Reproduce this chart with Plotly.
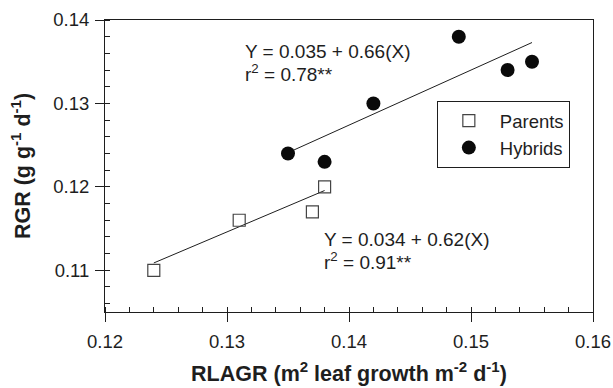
import plotly.graph_objects as go

# Relative leaf area growth rate (x) vs relative growth rate (y)
parents_x = [0.124, 0.131, 0.137, 0.138]
parents_y = [0.110, 0.116, 0.117, 0.120]
hybrids_x = [0.135, 0.138, 0.142, 0.149, 0.153, 0.155]
hybrids_y = [0.124, 0.123, 0.130, 0.138, 0.134, 0.135]

# Fitted regressions: Y = a + b*X
parents_fit = (0.034, 0.62)
hybrids_fit = (0.035, 0.66)

x_ticks = [0.12, 0.13, 0.14, 0.15, 0.16]
y_ticks = [0.11, 0.12, 0.13, 0.14]

INK = "#1e1e1e"
FONT = "Liberation Sans, Arial, sans-serif"

def fit_line(xs, coef):
    a, b = coef
    x0, x1 = min(xs), max(xs)
    return [x0, x1], [a + b * x0, a + b * x1]

fig = go.Figure()

for xs, coef in ((parents_x, parents_fit), (hybrids_x, hybrids_fit)):
    lx, ly = fit_line(xs, coef)
    fig.add_trace(go.Scatter(x=lx, y=ly, mode="lines", showlegend=False,
                             line=dict(color=INK, width=1), hoverinfo="skip"))

fig.add_trace(go.Scatter(
    x=parents_x, y=parents_y, mode="markers", name="Parents",
    marker=dict(symbol="square-open", size=12, color="#444444",
                line=dict(width=1.2, color="#444444"))))
fig.add_trace(go.Scatter(
    x=hybrids_x, y=hybrids_y, mode="markers", name="Hybrids",
    marker=dict(symbol="circle", size=14, color="#0a0a0a")))

def eq_text(coef):
    return f"Y = {coef[0]:.3f} + {coef[1]:.2f}(X)"

notes = [
    (0.1313, 0.1362, eq_text(hybrids_fit)),
    (0.1313, 0.1336, "r<sup>2</sup> = 0.78**"),
    (0.1378, 0.1137, eq_text(parents_fit)),
    (0.1378, 0.1111, "r<sup>2</sup> = 0.91**"),
]
for nx, ny, txt in notes:
    fig.add_annotation(x=nx, y=ny, text=txt, showarrow=False,
                       xanchor="left", yanchor="middle", align="left",
                       font=dict(size=19, color=INK, family=FONT))

axis_common = dict(
    showgrid=False, zeroline=False, showline=True, linecolor=INK,
    linewidth=1, mirror=True, ticks="outside", ticklen=9, tickwidth=1,
    tickcolor=INK, tickfont=dict(size=18.5, color=INK, family=FONT),
    automargin=False,
)

fig.update_xaxes(
    range=[0.12, 0.16], tickvals=x_ticks,
    ticktext=[f"{v:.2f}" for v in x_ticks],
    ticklabelstandoff=4,
    minor=dict(ticks="inside", dtick=0.002, tick0=0.12, ticklen=5,
               tickcolor=INK, tickwidth=1),
    title=dict(text="<b>RLAGR (m<sup>2</sup> leaf growth m<sup>-2</sup> d<sup>-1</sup>)</b>",
               font=dict(size=21.5, color=INK, family=FONT), standoff=14),
    **axis_common)
fig.update_yaxes(
    range=[0.105, 0.14], tickvals=y_ticks,
    ticktext=[f"{v:.2f}" for v in y_ticks],
    ticklabelstandoff=2,
    minor=dict(ticks="inside", dtick=0.002, tick0=0.10, ticklen=5,
               tickcolor=INK, tickwidth=1),
    title=dict(text="<b>RGR (g g<sup>-1</sup> d<sup>-1</sup>)</b>",
               font=dict(size=21.5, color=INK, family=FONT), standoff=16),
    **axis_common)

fig.update_layout(
    width=613, height=388,
    margin=dict(l=105, r=20, t=20, b=76),
    paper_bgcolor="white", plot_bgcolor="white",
    font=dict(family=FONT, color=INK, size=18),
    legend=dict(x=0.68, y=0.7226, xanchor="left", yanchor="top",
                itemwidth=52,
                bordercolor=INK, borderwidth=1, bgcolor="white",
                font=dict(size=18.5, color=INK, family=FONT)),
)

fig.write_html("out.html")
